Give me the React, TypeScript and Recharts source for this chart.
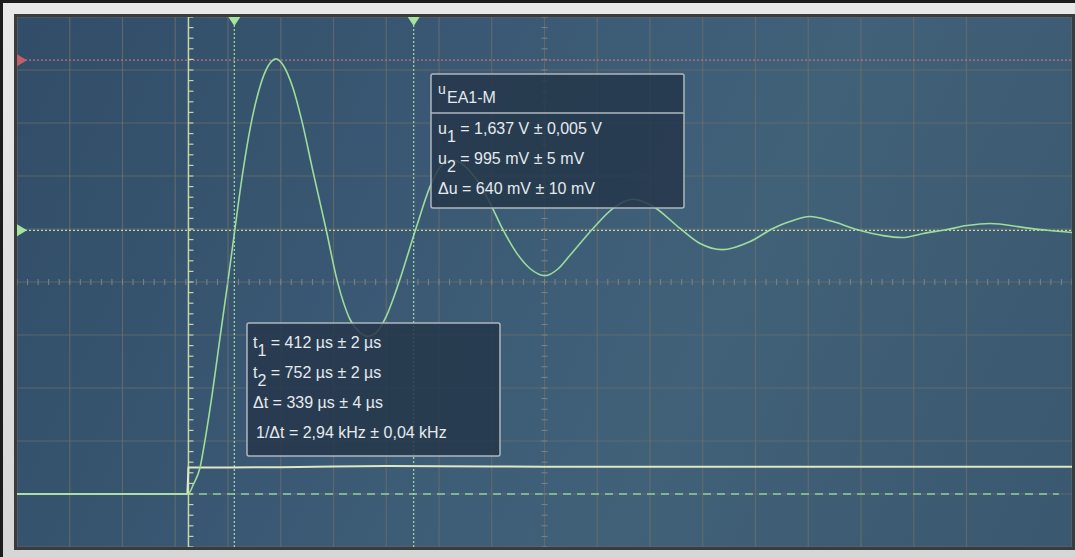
import React from "react";
import {
  ComposedChart,
  Line,
  Scatter,
  XAxis,
  YAxis,
  CartesianGrid,
  ReferenceLine,
} from "recharts";

// scope settings: 100 µs/div, 200 mV/div
const GRID_T = [0, 100, 200, 300, 400, 500, 600, 700, 800, 900, 1000, 1100, 1200, 1300, 1400, 1500, 1600, 1700, 1800, 1900, 2000];
const GRID_U = [-0.2, 0, 0.2, 0.4, 0.6, 0.8, 1, 1.2, 1.4, 1.6, 1.8];

// u EA1-M (damped response), time in µs, voltage in V
const TRACE_T = [0, 324, 335, 347, 356, 370, 385, 400, 413, 427, 442, 461, 476, 491, 504, 523, 540, 561, 586, 607, 631, 650, 665, 680, 700, 720, 756, 783, 802, 825, 849, 868, 897, 919, 948, 973, 1001, 1026, 1048, 1092, 1130, 1168, 1206, 1257, 1295, 1337, 1390, 1433, 1465, 1503, 1547, 1592, 1642, 1678, 1718, 1763, 1801, 1845, 1907, 1953, 2000];
const TRACE_U = [0, 0, 0.039, 0.1, 0.198, 0.376, 0.592, 0.805, 0.998, 1.2, 1.38, 1.54, 1.615, 1.642, 1.62, 1.533, 1.408, 1.218, 0.998, 0.805, 0.66, 0.61, 0.595, 0.607, 0.67, 0.775, 1.0, 1.16, 1.233, 1.26, 1.237, 1.195, 1.097, 1.006, 0.907, 0.85, 0.824, 0.85, 0.9, 1.002, 1.078, 1.112, 1.085, 1.002, 0.945, 0.922, 0.953, 1.002, 1.028, 1.047, 1.028, 0.998, 0.975, 0.968, 0.983, 0.998, 1.013, 1.021, 1.006, 0.995, 0.987];

// input step trace
const STEP_T = [0, 323, 325, 400, 500, 600, 700, 800, 900, 1000, 1200, 1400, 1600, 1800, 2000];
const STEP_U = [0, 0, 0.1, 0.1, 0.101, 0.104, 0.106, 0.105, 0.104, 0.103, 0.103, 0.103, 0.103, 0.103, 0.103];

// cursors
const CURSOR_T = [412, 752];
const CURSOR_U = [1.637, 0.995];
const TRIGGER_T = 325;
const CENTER_T = 1000;
const CENTER_U = 0.8;

const U_LINES = [
  ["u", "1", " = 1,637 V ± 0,005 V"],
  ["u", "2", " = 995 mV ± 5 mV"],
  ["Δu", "", " = 640 mV ± 10 mV"],
];
const T_LINES = [
  ["t", "1", " = 412 µs ± 2 µs"],
  ["t", "2", " = 752 µs ± 2 µs"],
  ["Δt", "", " = 339 µs ± 4 µs"],
  ["1/Δt", "", " = 2,94 kHz ± 0,04 kHz"],
];

const trace = TRACE_T.map((t, i) => ({ t, v: TRACE_U[i] }));
const step = STEP_T.map((t, i) => ({ t, v: STEP_U[i] }));

// minor division ticks (5 per division)
const minorT = Array.from({ length: 101 }, (_, i) => i * 20);
const minorU = Array.from({ length: 51 }, (_, i) => -0.2 + i * 0.04);
const centerHTicks = minorT.map((t) => ({ t, v: CENTER_U }));
const centerVTicks = minorU.map((v) => ({ t: CENTER_T, v }));
const triggerTicks = minorU.map((v) => ({ t: TRIGGER_T, v }));
const cursorMarks = CURSOR_T.map((t) => ({ t, v: 1.8 }));

const VTick = (p: any) => (
  <line x1={p.cx} x2={p.cx} y1={p.cy - 3} y2={p.cy + 3} stroke="#7c848a" strokeWidth={1} />
);
const HTick = (p: any) => (
  <line x1={p.cx - 3} x2={p.cx + 3} y1={p.cy} y2={p.cy} stroke="#7c848a" strokeWidth={1} />
);
const TrigTick = (p: any) => (
  <line x1={p.cx} x2={p.cx + 5} y1={p.cy} y2={p.cy} stroke="#c9d6aa" strokeWidth={1.2} />
);
const DownTri = (p: any) => (
  <polygon points={`${p.cx - 6},${p.cy} ${p.cx + 6},${p.cy} ${p.cx},${p.cy + 9}`} fill="#a6e39c" />
);
const RightTri = (color: string) => (p: any) => (
  <polygon points={`${p.cx},${p.cy - 6} ${p.cx},${p.cy + 6} ${p.cx + 10},${p.cy}`} fill={color} />
);

const txt = "#e4eaee";
const font = "'Liberation Sans', Arial, sans-serif";

const MeasureLine = ({ x, y, parts }: { x: number; y: number; parts: string[] }) => (
  <text x={x} y={y} fill={txt} fontSize={16} fontFamily={font}>
    <tspan>{parts[0]}</tspan>
    {parts[1] ? <tspan dy={8}>{parts[1]}</tspan> : null}
    <tspan dy={parts[1] ? -8 : 0}>{parts[2]}</tspan>
  </text>
);

export default function App() {
  return (
    <div
      style={{
        position: "absolute",
        left: 0,
        top: 0,
        width: 1075,
        height: 557,
        background: "#1c1c1c",
        overflow: "hidden",
      }}
    >
      <div
        style={{
          position: "absolute",
          left: 3,
          top: 3,
          right: 0,
          bottom: 0,
          background: "linear-gradient(180deg, #e9e9e9 0%, #d6d6d6 100%)",
        }}
      />
      <div
        style={{
          position: "absolute",
          left: 14,
          top: 14,
          right: 0,
          bottom: 7,
          background: "#3b3b3b",
        }}
      />
      <div
        style={{
          position: "absolute",
          left: 17,
          top: 17,
          width: 1055,
          height: 530,
          background:
            "linear-gradient(115deg, #314d67 0%, #3a5873 35%, #416179 65%, #3a5870 100%)",
        }}
      >
        <ComposedChart width={1055} height={530} margin={{ top: 0, right: 0, bottom: 0, left: 0 }}>
          <XAxis type="number" dataKey="t" domain={[0, 2000]} ticks={GRID_T} hide allowDataOverflow />
          <YAxis type="number" dataKey="v" domain={[-0.2, 1.8]} ticks={GRID_U} hide allowDataOverflow />
          <CartesianGrid stroke="#6c6e6c" strokeOpacity={0.75} strokeWidth={1.2} />
          <Scatter data={centerHTicks} dataKey="v" shape={VTick} isAnimationActive={false} />
          <Scatter data={centerVTicks} dataKey="v" shape={HTick} isAnimationActive={false} />
          <ReferenceLine
            segment={[{ x: 0, y: 0 }, { x: 1975, y: 0 }]}
            stroke="#8fcf9a"
            strokeWidth={1.4}
            strokeDasharray="8 6"
          />
          <ReferenceLine x={TRIGGER_T} stroke="#c9d6aa" strokeWidth={1.5} />
          <Scatter data={triggerTicks} dataKey="v" shape={TrigTick} isAnimationActive={false} />
          <ReferenceLine y={CURSOR_U[0]} stroke="#c8707c" strokeWidth={1.2} strokeDasharray="2 2" />
          <ReferenceLine y={CURSOR_U[1]} stroke="#c4d8a4" strokeWidth={1.2} strokeDasharray="2 2" />
          {CURSOR_T.map((t) => (
            <ReferenceLine key={t} x={t} stroke="#a6dca0" strokeWidth={1.2} strokeDasharray="2 2" />
          ))}
          <Line
            data={step}
            dataKey="v"
            type="linear"
            dot={false}
            stroke="#dfe8c2"
            strokeWidth={2}
            isAnimationActive={false}
          />
          <Line
            data={trace}
            dataKey="v"
            type="monotone"
            dot={false}
            stroke="#9ddc9c"
            strokeWidth={1.6}
            isAnimationActive={false}
          />
          <Scatter data={cursorMarks} dataKey="v" shape={DownTri} isAnimationActive={false} />
          <Scatter data={[{ t: 0, v: CURSOR_U[0] }]} dataKey="v" shape={RightTri("#c0606c")} isAnimationActive={false} />
          <Scatter data={[{ t: 0, v: CURSOR_U[1] }]} dataKey="v" shape={RightTri("#a6e39c")} isAnimationActive={false} />
        </ComposedChart>
      </div>
      <svg
        width={1075}
        height={557}
        style={{ position: "absolute", left: 0, top: 0, pointerEvents: "none" }}
      >
        {/* voltage measurement box */}
        <rect x={431} y={74} width={253} height={134} rx={2} fill="rgba(37,55,75,0.86)" stroke="#aeb7bf" strokeWidth={1.5} />
        <line x1={431} x2={684} y1={113} y2={113} stroke="#aeb7bf" strokeWidth={1.5} />
        <text x={438} y={94} fill={txt} fontSize={14} fontFamily={font}>u</text>
        <text x={447} y={103} fill={txt} fontSize={16} fontFamily={font}>EA1-M</text>
        {U_LINES.map((parts, i) => (
          <MeasureLine key={i} x={438} y={134 + i * 30} parts={parts} />
        ))}
        {/* time measurement box */}
        <rect x={247} y={323} width={253} height={133} rx={2} fill="rgba(37,55,75,0.86)" stroke="#aeb7bf" strokeWidth={1.5} />
        {T_LINES.map((parts, i) => (
          <MeasureLine key={i} x={i === 3 ? 256 : 253} y={348 + i * 30} parts={parts} />
        ))}
      </svg>
    </div>
  );
}
